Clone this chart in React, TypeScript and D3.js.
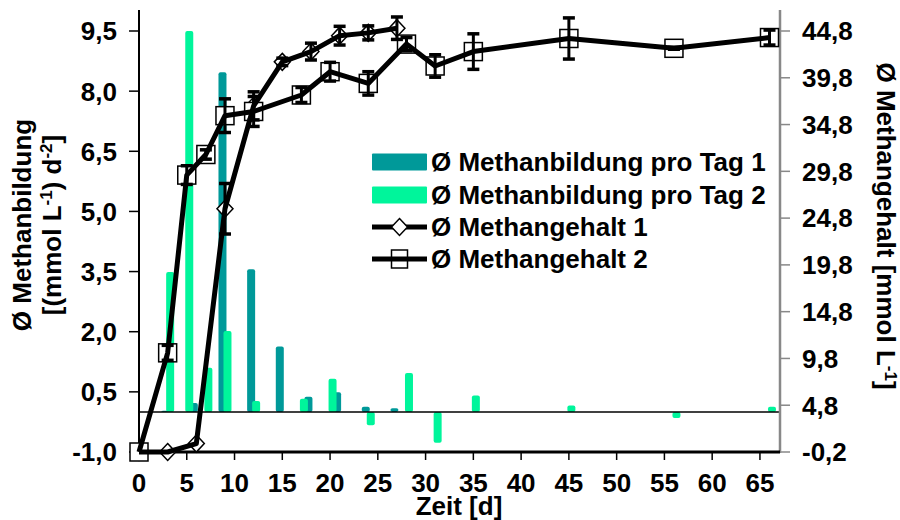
import React from 'react';
import * as d3 from 'd3';

const W = 900;
const H = 520;

// Bars (left axis): Ø Methanbildung pro Tag
const barDays1 = [3, 6, 9, 12, 15, 18, 21, 24, 27];
const barVals1 = [0.03, 0.22, 8.47, 3.56, 1.63, 0.38, 0.49, 0.13, 0.09];
const barDays2 = [3, 5, 7, 9, 12, 17, 20, 24, 28, 31, 35, 45, 56, 66];
const barVals2 = [3.49, 9.5, 1.1, 2.02, 0.27, 0.33, 0.83, -0.33, 0.97, -0.77, 0.41, 0.16, -0.15, 0.13];

// Lines (right axis): Ø Methangehalt
const lineDays1 = [0, 3, 6, 9, 12, 15, 18, 21, 24, 27];
const lineVals1 = [-0.2, -0.2, 0.7, 25.8, 36.8, 41.5, 42.6, 44.3, 44.6, 45.1];
const lineErr1 = [0, 0, 0, 2.7, 1.5, 0.4, 0.9, 1.0, 0.75, 1.2];
const lineDays2 = [0, 3, 5, 7, 9, 12, 17, 20, 24, 28, 31, 35, 45, 56, 66];
const lineVals2 = [-0.2, 10.4, 29.4, 31.6, 35.75, 36.2, 37.96, 40.45, 39.2, 43.4, 41.06, 42.6, 44.0, 42.95, 44.1];
const lineErr2 = [0, 0.8, 1.0, 0.5, 1.8, 1.6, 0.8, 1.0, 1.25, 0.7, 1.2, 1.9, 2.2, 0.1, 0.8];

const xTicks = [0, 5, 10, 15, 20, 25, 30, 35, 40, 45, 50, 55, 60, 65];
const leftTicks = [-1.0, 0.5, 2.0, 3.5, 5.0, 6.5, 8.0, 9.5];
const rightTicks = [-0.2, 4.8, 9.8, 14.8, 19.8, 24.8, 29.8, 34.8, 39.8, 44.8];

const legendLabels = [
  'Ø Methanbildung pro Tag 1',
  'Ø Methanbildung pro Tag 2',
  'Ø Methangehalt 1',
  'Ø Methangehalt 2',
];

const TEAL = '#009999';
const GREEN = '#00F59B';
const FONT = "'Liberation Sans', Arial, sans-serif";
const FS = 26;

const fmt = (v: number) => d3.format('.1f')(v).replace('.', ',').replace('−', '-');

export default function App() {
  const x = d3.scaleLinear().domain([0, 67.1]).range([139, 780]);
  const yL = d3.scaleLinear().domain([-1, 9.5]).range([452, 31]);
  const yR = d3.scaleLinear().domain([-0.2, 44.8]).range([452, 31]);
  const bw = 8;

  const line = d3
    .line<[number, number]>()
    .x((d) => x(d[0]))
    .y((d) => yR(d[1]));

  const pts1: [number, number][] = lineDays1.map((d, i) => [d, lineVals1[i]]);
  const pts2: [number, number][] = lineDays2.map((d, i) => [d, lineVals2[i]]);

  const bar = (d: number, v: number, off: number, color: string, key: string) => {
    const y0 = yL(0);
    const y1 = yL(v);
    return (
      <rect
        key={key}
        x={x(d) + off - bw / 2}
        y={Math.min(y0, y1)}
        width={bw}
        height={Math.max(Math.abs(y1 - y0), 1)}
        rx={2}
        fill={color}
      />
    );
  };

  const diamond = (cx: number, cy: number, key: string) => (
    <path
      key={key}
      d={`M${cx},${cy - 8.5}L${cx + 8},${cy}L${cx},${cy + 8.5}L${cx - 8},${cy}Z`}
      fill="#fff"
      stroke="#000"
      strokeWidth={1.5}
    />
  );
  const square = (cx: number, cy: number, key: string) => (
    <rect key={key} x={cx - 9} y={cy - 9} width={18} height={18} fill="#fff" stroke="#000" strokeWidth={1.5} />
  );

  const errBar = (d: number, v: number, e: number, key: string) => {
    if (e <= 0) return null;
    const cx = x(d);
    const t = yR(v + e);
    const b = yR(v - e);
    return (
      <g key={key} stroke="#000">
        <line x1={cx} x2={cx} y1={t} y2={b} strokeWidth={3} />
        <line x1={cx - 6} x2={cx + 6} y1={t} y2={t} strokeWidth={3.5} />
        <line x1={cx - 6} x2={cx + 6} y1={b} y2={b} strokeWidth={3.5} />
      </g>
    );
  };

  const legY = [162, 195, 227, 259];

  return (
    <svg
      width={W}
      height={H}
      style={{ position: 'absolute', left: 0, top: 0, background: '#fff' }}
      fontFamily={FONT}
      fontWeight="bold"
    >
      <rect x={0} y={0} width={W} height={H} fill="#fff" />
      {/* bars */}
      {barDays1.map((d, i) => bar(d, barVals1[i], -2.5, TEAL, 'b1' + i))}
      {barDays2.map((d, i) => bar(d, barVals2[i], 2.5, GREEN, 'b2' + i))}

      {/* zero line */}
      <line x1={139} x2={780} y1={yL(0)} y2={yL(0)} stroke="#000" strokeWidth={1.5} />

      {/* left axis */}
      <line x1={139} x2={139} y1={10} y2={453} stroke="#000" strokeWidth={2} />
      {leftTicks.map((t) => (
        <g key={'lt' + t}>
          <line x1={129} x2={139} y1={yL(t)} y2={yL(t)} stroke="#000" strokeWidth={1.5} />
          <text x={117} y={yL(t)} dy="0.36em" textAnchor="end" fontSize={FS}>
            {fmt(t)}
          </text>
        </g>
      ))}

      {/* right axis */}
      <line x1={780} x2={780} y1={10} y2={453} stroke="#888" strokeWidth={2.5} />
      {rightTicks.map((t) => (
        <g key={'rt' + t}>
          <line x1={780} x2={790} y1={yR(t)} y2={yR(t)} stroke="#888" strokeWidth={1.5} />
          <text x={802} y={yR(t)} dy="0.36em" textAnchor="start" fontSize={FS}>
            {fmt(t)}
          </text>
        </g>
      ))}

      {/* bottom axis */}
      <line x1={138} x2={780} y1={452} y2={452} stroke="#000" strokeWidth={3} />
      {xTicks.map((t) => (
        <g key={'xt' + t}>
          <line x1={x(t)} x2={x(t)} y1={452} y2={460} stroke="#000" strokeWidth={1.5} />
          <text x={x(t)} y={492} textAnchor="middle" fontSize={FS}>
            {t}
          </text>
        </g>
      ))}

      {/* axis titles */}
      <text x={459} y={515} textAnchor="middle" fontSize={FS}>
        Zeit [d]
      </text>
      <text transform="translate(31,225) rotate(-90)" textAnchor="middle" fontSize={FS}>
        Ø Methanbildung
      </text>
      <text transform="translate(61,225) rotate(-90)" textAnchor="middle" fontSize={FS}>
        [(mmol L
        <tspan dy={-9} fontSize={17}>
          -1
        </tspan>
        <tspan dy={9}>) d</tspan>
        <tspan dy={-9} fontSize={17}>
          -2
        </tspan>
        <tspan dy={9}>]</tspan>
      </text>
      <text transform="translate(877,226) rotate(90)" textAnchor="middle" fontSize={FS}>
        Ø Methangehalt [mmol L
        <tspan dy={-8} fontSize={17}>
          -1
        </tspan>
        <tspan dy={8}>]</tspan>
      </text>

      {/* markers */}
      {pts1.map((p, i) => diamond(x(p[0]), yR(p[1]), 'm1' + i))}
      {pts2.map((p, i) => square(x(p[0]), yR(p[1]), 'm2' + i))}

      {/* lines */}
      <path d={line(pts1) || ''} fill="none" stroke="#000" strokeWidth={5} strokeLinejoin="round" />
      <path d={line(pts2) || ''} fill="none" stroke="#000" strokeWidth={5} strokeLinejoin="round" />

      {/* error bars */}
      {lineDays1.map((d, i) => errBar(d, lineVals1[i], lineErr1[i], 'e1' + i))}
      {lineDays2.map((d, i) => errBar(d, lineVals2[i], lineErr2[i], 'e2' + i))}

      {/* legend */}
      <rect x={372} y={legY[0] - 8.5} width={55} height={17} fill={TEAL} rx={1} />
      <rect x={372} y={legY[1] - 8.5} width={55} height={17} fill={GREEN} rx={1} />
      <line x1={372} x2={427} y1={legY[2]} y2={legY[2]} stroke="#000" strokeWidth={5} />
      {diamond(399.5, legY[2], 'ld')}
      <line x1={372} x2={427} y1={legY[3]} y2={legY[3]} stroke="#000" strokeWidth={5} />
      <rect x={391.5} y={legY[3] - 9} width={16} height={18} fill="none" stroke="#000" strokeWidth={1.5} />
      {legendLabels.map((l, i) => (
        <text key={'lg' + i} x={431} y={legY[i]} dy="0.36em" fontSize={FS}>
          {l}
        </text>
      ))}
    </svg>
  );
}
